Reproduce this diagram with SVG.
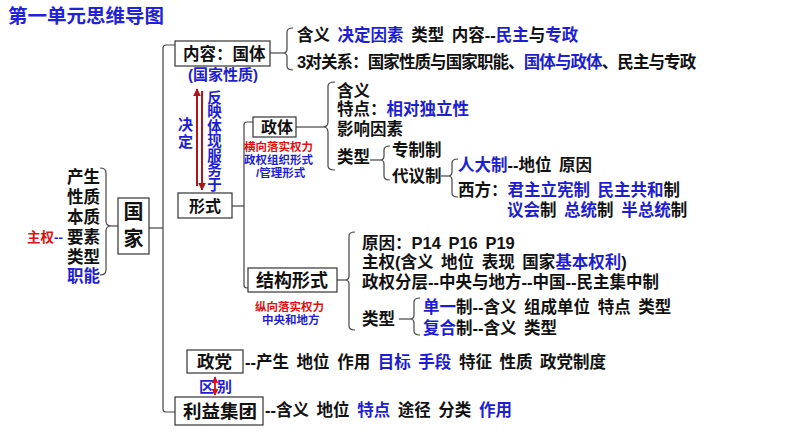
<svg xmlns="http://www.w3.org/2000/svg" width="794" height="447" viewBox="0 0 794 447">
<defs>
<style>
text{font-family:"Liberation Sans","Noto Sans CJK SC",sans-serif;font-weight:bold;fill:#111;word-spacing:3px}
.b{fill:#1e1ecf}
.r{fill:#e01010}
.t{font-size:16.5px}
.s{font-size:11.5px}
.v{font-size:14.5px}
.box{fill:#fff;stroke:#333;stroke-width:1.2}
.ln{fill:none;stroke:#444;stroke-width:1.2}
.ar{fill:none;stroke:#b0151a;stroke-width:2}
</style>
<marker id="ah" viewBox="0 0 10 10" refX="9" refY="5" markerWidth="4" markerHeight="4" orient="auto-start-reverse" markerUnits="strokeWidth">
<path d="M0,0 L10,5 L0,10 z" fill="#b0151a"/>
</marker>
<marker id="ah2" viewBox="0 0 10 10" refX="9" refY="5" markerWidth="4" markerHeight="4" orient="auto-start-reverse" markerUnits="strokeWidth">
<path d="M0,0 L10,5 L0,10 z" fill="#e01010"/>
</marker>
</defs>
<rect width="794" height="447" fill="#fff"/>

<text id="title" x="8" y="23" class="b" style="font-size:19.5px;fill:#2323d6">第一单元思维导图</text>

<g id="connectors">
<path class="ln" d="M100,168 Q106,168 106,173 L106,221 Q106,226 111,226 Q106,226 106,231 L106,270 Q106,275 100,275"/>
<line class="ln" x1="111" y1="226" x2="118" y2="226"/>
<path class="ln" d="M175,45 L166,45 Q163,45 163,48 L163,409 Q163,412 166,412 L175,412"/>
<line class="ln" x1="149" y1="228" x2="163" y2="228"/>
<path class="ln" d="M293,28 Q287,28 287,32 L287,49 Q287,53 283,53 Q287,53 287,57 L287,66 Q287,70 293,70"/>
<line class="ln" x1="270" y1="53" x2="283" y2="53"/>
<path class="ln" d="M253,122 L247,122 Q244,122 244,125 L244,285 Q244,288 247,288 L248,288"/>
<line class="ln" x1="232" y1="206" x2="244" y2="206"/>
<path class="ln" d="M335,82 Q328,82 328,86 L328,122 Q328,127 323,127 Q328,127 328,132 L328,166 Q328,170 335,170"/>
<line class="ln" x1="296" y1="127" x2="323" y2="127"/>
<path class="ln" d="M390,146 Q384,146 384,150 L384,156 Q384,160 380,160 Q384,160 384,164 L384,176 Q384,180 390,180"/>
<line class="ln" x1="370" y1="160" x2="380" y2="160"/>
<path class="ln" d="M458,159 Q452,159 452,163 L452,172 Q452,176 448,176 Q452,176 452,180 L452,193 Q452,197 458,197"/>
<line class="ln" x1="441" y1="176" x2="448" y2="176"/>
<path class="ln" d="M355,232 Q349,232 349,236 L349,276 Q349,280 345,280 Q349,280 349,284 L349,326 Q349,330 355,330"/>
<line class="ln" x1="337" y1="280" x2="345" y2="280"/>
<path class="ln" d="M420,298 Q414,298 414,302 L414,315 Q414,319 410,319 Q414,319 414,323 L414,331 Q414,335 420,335"/>
<line class="ln" x1="399" y1="319" x2="410" y2="319"/>
<line class="ar" x1="197" y1="186" x2="197" y2="89" marker-end="url(#ah)"/>
<line class="ar" x1="202" y1="91" x2="202" y2="190" marker-end="url(#ah)"/>
<line x1="215" y1="377" x2="215" y2="395" stroke="#e01010" stroke-width="1.8" marker-start="url(#ah2)" marker-end="url(#ah2)"/>
</g>

<g id="list">
<text class="t" x="67" y="183">产生</text>
<text class="t" x="67" y="203">性质</text>
<text class="t" x="67" y="223">本质</text>
<text class="t" x="67" y="243">要素</text>
<text class="t" x="67" y="263">类型</text>
<text class="t b" x="67" y="282">职能</text>
<text x="27" y="242" style="font-size:13.5px"><tspan class="r">主权</tspan><tspan class="b">--</tspan></text>
</g>

<g id="guojia">
<rect class="box" x="118" y="198" width="31" height="56"/>
<text x="133.5" y="219" text-anchor="middle" style="font-size:20px">国</text>
<text x="133.5" y="246" text-anchor="middle" style="font-size:20px">家</text>
</g>

<g id="guoti">
<rect class="box" x="175" y="41" width="95" height="25"/>
<text class="t" x="183" y="59.5">内容：国体</text>
<text class="b" x="188" y="80" style="font-size:15px">(国家性质)</text>
</g>
<g id="guoti-items">
<text class="t" x="297" y="41">含义 <tspan class="b">决定因素</tspan> 类型 内容--<tspan class="b">民主</tspan>与<tspan class="b">专政</tspan></text>
<text class="t" x="297" y="68" style="letter-spacing:-0.9px">3对关系：国家性质与国家职能、<tspan class="b">国体与政体</tspan>、民主与专政</text>
</g>

<g id="relation-labels">
<text class="b" x="185.5" y="130" text-anchor="middle" style="font-size:15px">决</text>
<text class="b" x="185.5" y="147" text-anchor="middle" style="font-size:15px">定</text>
<text class="b v" x="214.5" y="102.5" text-anchor="middle">反</text>
<text class="b v" x="214.5" y="117" text-anchor="middle">映</text>
<text class="b v" x="214.5" y="131.5" text-anchor="middle">体</text>
<text class="b v" x="214.5" y="146" text-anchor="middle">现</text>
<text class="b v" x="214.5" y="160.5" text-anchor="middle">服</text>
<text class="b v" x="214.5" y="175" text-anchor="middle">务</text>
<text class="b v" x="214.5" y="189.5" text-anchor="middle">于</text>
</g>

<g id="xingshi">
<rect class="box" x="178" y="193" width="54" height="25"/>
<text x="189" y="211.5" style="font-size:16px">形式</text>
</g>

<g id="zhengti">
<rect class="box" x="253" y="117" width="43" height="20"/>
<text x="261" y="133" style="font-size:16px">政体</text>
<text class="s r" x="244" y="151">横向落实权力</text>
<text class="s b" x="244" y="164">政权组织形式</text>
<text class="s b" x="256" y="177">/管理形式</text>
</g>
<g id="zhengti-items">
<text class="t" x="337" y="97">含义</text>
<text class="t" x="337" y="115">特点：<tspan class="b">相对独立性</tspan></text>
<text class="t" x="337" y="135">影响因素</text>
<text class="t" x="337" y="163">类型</text>
<text class="t" x="392" y="156">专制制</text>
<text class="t" x="392" y="182">代议制</text>
<text class="t" x="458" y="171"><tspan class="b">人大制</tspan>--地位 原因</text>
<text class="t" x="458" y="196">西方：<tspan class="b">君主立宪制 民主共和</tspan>制</text>
<text class="t" x="507" y="216"><tspan class="b">议会</tspan>制 <tspan class="b">总统</tspan>制 <tspan class="b">半总统</tspan>制</text>
</g>

<g id="jiegou">
<rect class="box" x="248" y="268" width="89" height="24"/>
<text x="256" y="286.5" style="font-size:18px">结构形式</text>
<text class="s r" x="255" y="311">纵向落实权力</text>
<text class="s b" x="262" y="323.5">中央和地方</text>
</g>
<g id="jiegou-items">
<text class="t" x="362" y="249">原因：P14 P16 P19</text>
<text class="t" x="362" y="268">主权(含义 地位 表现 国家<tspan class="b">基本权利</tspan>)</text>
<text class="t" x="362" y="288">政权分层--中央与地方--中国--民主集中制</text>
<text class="t" x="362" y="325">类型</text>
<text class="t" x="423" y="313"><tspan class="b">单一</tspan>制--含义 组成单位 特点 类型</text>
<text class="t" x="423" y="334"><tspan class="b">复合</tspan>制--含义 类型</text>
</g>

<g id="zhengdang">
<rect class="box" x="187" y="350" width="56" height="23"/>
<text x="197" y="368" style="font-size:17.5px">政党</text>
<text class="t" x="245" y="368">--产生 地位 作用 <tspan class="b">目标 手段</tspan> 特征 性质 政党制度</text>
</g>

<g id="qubie">
<text class="b" x="199" y="392" style="font-size:15px">区</text>
<text class="b" x="217" y="392" style="font-size:15px">别</text>
</g>

<g id="liyi">
<rect class="box" x="175" y="397" width="88" height="28"/>
<text x="183" y="417.5" style="font-size:18.5px">利益集团</text>
<text class="t" x="265" y="416">--含义 地位 <tspan class="b">特点</tspan> 途径 分类 <tspan class="b">作用</tspan></text>
</g>
</svg>
